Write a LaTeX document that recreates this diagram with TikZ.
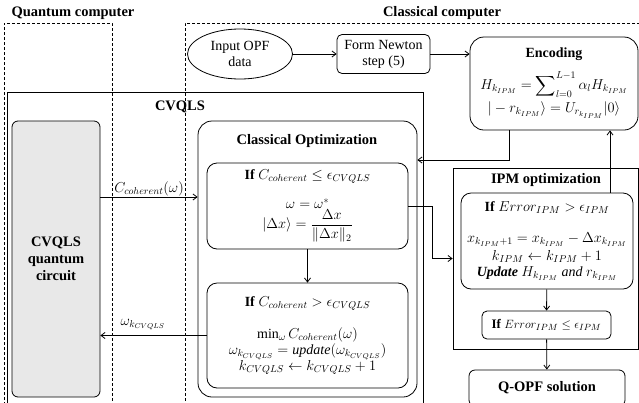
\documentclass[tikz,border=0pt]{standalone}
\usepackage{fontspec}
\setmainfont{Liberation Serif}
\usepackage{amsmath}
\usepackage{amssymb}
\usepackage{tikz}
\usetikzlibrary{arrows.meta,shapes.geometric}
\definecolor{qgray}{RGB}{232, 232, 232}

\begin{document}
\begin{tikzpicture}[x = 1pt, y = -1pt, line width = 0.8pt,
  font = \fontsize{14}{16}\selectfont,
  region/.style = {line width = 0.6pt, dash pattern = on 3pt off 2pt},
  rbox/.style = {draw, rounded corners = 10pt, align = center, inner sep = 0pt},
  sbox/.style = {draw, align = center, inner sep = 0pt},
  head/.style = {font = \fontsize{14.5}{16}\selectfont\bfseries},
  tag/.style = {fill = white, inner sep = 1pt},
  arr/.style = {-{Straight Barb[length = 4pt, width = 6pt]}}]
\useasboundingbox (0,0) rectangle (639,402);
\draw[region] (4,405) -- (4,23) -- (112,23) -- (112,405);
\draw[region] (645,23) -- (185,23) -- (185,405);
\node[head] (qc) at (73,13) {Quantum computer};
\node[head] (cc) at (442,13) {Classical computer};
\node[sbox, minimum width = 416, minimum height = 312] (cvqls) at (215,248) {};
\node[head] (cvqlst) at (180,107) {CVQLS};
\node[rbox, fill = qgray, rounded corners = 6pt, minimum width = 88, minimum height = 276,
  font = \fontsize{14.5}{17}\selectfont\bfseries] (qcirc) at (56,259) {CVQLS\\quantum\\circuit};
\node[rbox, rounded corners = 14pt, minimum width = 219, minimum height = 276] (copt) at (307.5,259) {};
\node[head] (coptt) at (307,141) {Classical Optimization};
\node[rbox, minimum width = 201, minimum height = 86] (box1) at (307.5,206)
  {\textbf{If} $C_{coherent} \le \epsilon_{CVQLS}$\\[13pt]
   $\omega = \omega^{*}$\\
   $|\Delta x\rangle = \dfrac{\Delta x}{\|\Delta x\|_2}$};
\node[rbox, minimum width = 201, minimum height = 105] (box2) at (307.5,335.5)
  {\textbf{If} $C_{coherent} > \epsilon_{CVQLS}$\\[16pt]
   $\min_{\omega} C_{coherent}(\omega)$\\
   $\omega_{k_{CVQLS}} = \mathit{update}(\omega_{k_{CVQLS}})$\\
   $k_{CVQLS} \leftarrow k_{CVQLS} + 1$};
\node[draw, ellipse, minimum width = 105, minimum height = 50, align = center, inner sep = 0pt] (opf) at (240,54) {Input OPF\\data};
\node[rbox, rounded corners = 5pt, minimum width = 93, minimum height = 39] (newton) at (383.5,54) {Form Newton\\step (5)};
\node[rbox, rounded corners = 14pt, minimum width = 168, minimum height = 93] (enc) at (554,83.5)
  {\textbf{Encoding}\\[10pt]
   $H_{k_{IPM}} = \displaystyle\sum\nolimits_{l=0}^{L-1} \alpha_l H_{k_{IPM}}$\\[3pt]
   $|-r_{k_{IPM}}\rangle = U_{r_{k_{IPM}}}|0\rangle$};
\node[sbox, minimum width = 185, minimum height = 181] (ipm) at (545.5,258.5) {};
\node[head] (ipmt) at (546,180) {IPM optimization};
\node[rbox, minimum width = 172, minimum height = 96] (ipm1) at (547,241)
  {\textbf{If} $Error_{IPM} > \epsilon_{IPM}$\\[15pt]
   $x_{k_{IPM}+1} = x_{k_{IPM}} - \Delta x_{k_{IPM}}$\\[2pt]
   $k_{IPM} \leftarrow k_{IPM} + 1$\\
   \textbf{\textit{Update}} $H_{k_{IPM}}$ \textit{and} $r_{k_{IPM}}$};
\node[rbox, rounded corners = 5pt, minimum width = 129, minimum height = 28,
  font = \fontsize{13}{15}\selectfont] (err) at (546.5,325)
  {\textbf{If} $Error_{IPM} \le \epsilon_{IPM}$};
\node[rbox, rounded corners = 6pt, minimum width = 156, minimum height = 36] (qopf) at (547,388)
  {\fontsize{14.5}{16}\selectfont\bfseries Q-OPF solution};
\draw[arr] (opf.east) -- (opf.east -| newton.west);
\draw[arr] (newton.east) -- (newton.east -| enc.west);
\draw[arr] ([xshift = -45pt]enc.south) |- ([yshift = 99pt]copt.east);
\draw[arr] ([xshift = 63pt]ipm1.north) -- ([xshift = 63pt]ipm1.north |- enc.south);
\draw[arr] (box1.east) -- ++(24,0) |- (ipm.west);
\draw[arr] (box1) -- (box2);
\draw[arr] (ipm1) -- (err);
\draw[arr] (err) -- (qopf);
\draw[arr] ([yshift = 62pt]qcirc.east) -- ([yshift = 62pt]copt.west)
  node[midway, above, tag] {$C_{coherent}(\omega)$};
\draw[arr] (box2.west) -- (box2.west -| qcirc.east)
  node[pos = 0.6, above = 4pt, tag] {$\omega_{k_{CVQLS}}$};
\end{tikzpicture}
\end{document}
